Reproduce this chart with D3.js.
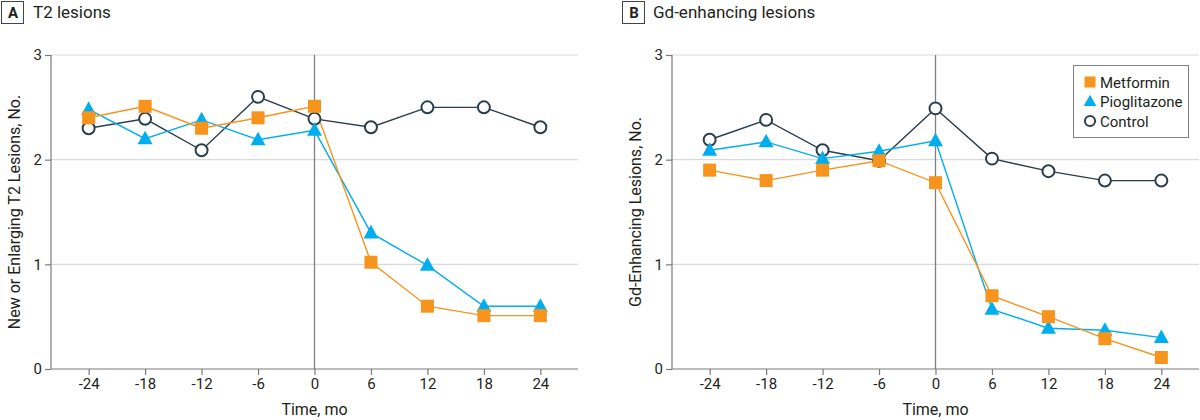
<!DOCTYPE html>
<html><head><meta charset="utf-8">
<script src="https://cdn.jsdelivr.net/npm/d3@7"></script>
<style>
html,body{margin:0;padding:0;background:#fff;}
svg{display:block;}
text{font-family:"Roboto","Noto Sans",sans-serif;fill:#231f20;}
</style></head>
<body><svg id="chart" width="1200" height="420"></svg>
<script>
const months = [-24, -18, -12, -6, 0, 6, 12, 18, 24];
const yTicks = [0, 1, 2, 3];
const seriesNames = ["Metformin", "Pioglitazone", "Control"];
// Panel A: new or enlarging T2 lesions
const t2Metformin = [2.40, 2.51, 2.30, 2.40, 2.51, 1.02, 0.60, 0.51, 0.51];
const t2Pioglitazone = [2.48, 2.20, 2.38, 2.19, 2.28, 1.30, 0.99, 0.60, 0.60];
const t2Control = [2.30, 2.39, 2.09, 2.60, 2.39, 2.31, 2.50, 2.50, 2.31];
// Panel B: Gd-enhancing lesions
const gdMetformin = [1.90, 1.80, 1.90, 1.99, 1.78, 0.70, 0.50, 0.29, 0.11];
const gdPioglitazone = [2.09, 2.17, 2.01, 2.08, 2.18, 0.57, 0.39, 0.37, 0.30];
const gdControl = [2.19, 2.38, 2.09, 1.99, 2.49, 2.01, 1.89, 1.80, 1.80];

const colors = {Metformin:"#F7941D", Pioglitazone:"#00AEEF", Control:"#2C3E4A"};
const svg = d3.select("#chart");

const panels = [
  {letter:"A", title:"T2 lesions", ylabel:"New or Enlarging T2 Lesions, No.",
   x0:51, x1:578, data:[t2Metformin, t2Pioglitazone, t2Control], legend:false, boxX:1, titleX:33},
  {letter:"B", title:"Gd-enhancing lesions", ylabel:"Gd-Enhancing Lesions, No.",
   x0:672, x1:1199, data:[gdMetformin, gdPioglitazone, gdControl], legend:true, boxX:622, titleX:653}
];

const yTop = 55, yBot = 369;

function drawMarker(g, name, x, y, s) {
  const c = colors[name];
  if (name === "Metformin") {
    g.append("rect").attr("x", x - s/2).attr("y", y - s/2).attr("width", s).attr("height", s).attr("fill", c);
  } else if (name === "Pioglitazone") {
    const h = s * 1.0, w = s * 1.15;
    g.append("path").attr("d", `M${x},${y - h*0.62}L${x + w/2},${y + h*0.42}L${x - w/2},${y + h*0.42}Z`).attr("fill", c);
  } else {
    g.append("circle").attr("cx", x).attr("cy", y).attr("r", s*0.46).attr("fill", "#fff").attr("stroke", c).attr("stroke-width", 2);
  }
}

panels.forEach(p => {
  const g = svg.append("g");
  const x = d3.scaleLinear().domain([-28, 28]).range([p.x0, p.x1]);
  const y = d3.scaleLinear().domain([0, 3]).range([yBot, yTop]);

  // title
  g.append("rect").attr("x", p.boxX + 0.5).attr("y", 1.5).attr("width", 22).attr("height", 22)
    .attr("fill", "#fff").attr("stroke", "#444").attr("stroke-width", 1);
  g.append("text").attr("x", p.boxX + 12).attr("y", 18).attr("text-anchor", "middle")
    .attr("font-size", 15).attr("font-weight", "bold").text(p.letter);
  g.append("text").attr("x", p.titleX).attr("y", 18).attr("font-size", 17).text(p.title);

  // gridlines
  g.selectAll(".grid").data(yTicks.filter(d => d > 0)).enter().append("line")
    .attr("x1", p.x0).attr("x2", p.x1).attr("y1", d => y(d)).attr("y2", d => y(d))
    .attr("stroke", "#d9d9d9").attr("stroke-width", 1.2);

  // zero vertical line
  g.append("line").attr("x1", x(0)).attr("x2", x(0)).attr("y1", yTop).attr("y2", yBot)
    .attr("stroke", "#808080").attr("stroke-width", 1.3);

  // axes
  const yAxis = d3.axisLeft(y).tickValues(yTicks).tickSize(6).tickPadding(3).tickFormat(d3.format("d"));
  const ya = g.append("g").attr("transform", `translate(${p.x0},0)`).call(yAxis);
  const xAxis = d3.axisBottom(x).tickValues(months).tickSize(6).tickPadding(3).tickFormat(d => d < 0 ? "-" + Math.abs(d) : d);
  const xa = g.append("g").attr("transform", `translate(0,${yBot})`).call(xAxis);
  [ya, xa].forEach(a => {
    a.select(".domain").attr("stroke", "#7a7a7a").attr("stroke-width", 1.2);
    a.selectAll(".tick line").attr("stroke", "#7a7a7a").attr("stroke-width", 1.2);
    a.selectAll(".tick text").attr("font-size", 15).attr("fill", "#231f20")
      .style("font-family", '"Roboto",sans-serif');
  });
  xa.select(".domain").attr("d", `M${p.x0},0H${p.x1}`);
  ya.select(".domain").attr("d", `M0,${yTop}V${yBot}`);

  // axis labels
  g.append("text").attr("x", x(0)).attr("y", 415).attr("text-anchor", "middle").attr("font-size", 16).text("Time, mo");
  g.append("text").attr("transform", `translate(${p.x0 - 31},${(yTop + yBot)/2}) rotate(-90)`)
    .attr("text-anchor", "middle").attr("font-size", 16).text(p.ylabel);

  // series: draw Control, Pioglitazone, Metformin lines, then markers
  const order = [2, 1, 0];
  order.forEach(i => {
    const name = seriesNames[i];
    const vals = p.data[i];
    const line = d3.line().x((d, j) => x(months[j])).y(d => y(d));
    g.append("path").datum(vals).attr("d", line).attr("fill", "none")
      .attr("stroke", colors[name]).attr("stroke-width", 1.4);
  });
  order.forEach(i => {
    const name = seriesNames[i];
    p.data[i].forEach((v, j) => drawMarker(g, name, x(months[j]), y(v), 13));
  });

  if (p.legend) {
    const lg = g.append("g");
    lg.append("rect").attr("x", 1073.5).attr("y", 65.5).attr("width", 115).attr("height", 72)
      .attr("fill", "#fff").attr("stroke", "#808080").attr("stroke-width", 1);
    seriesNames.forEach((name, k) => {
      const cy = 82 + k * 19.5;
      drawMarker(lg, name, 1090, cy, 11);
      lg.append("text").attr("x", 1100).attr("y", cy + 5.5).attr("font-size", 15).text(name);
    });
  }
});
</script>
</body></html>
